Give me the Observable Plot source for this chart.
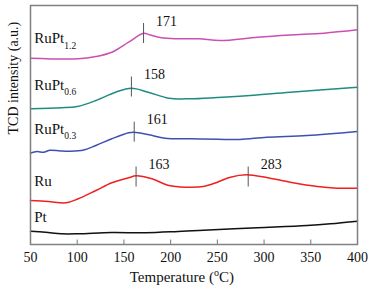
<!DOCTYPE html>
<html><head><meta charset="utf-8">
<script src="https://cdn.jsdelivr.net/npm/d3@7"></script>
<script src="https://cdn.jsdelivr.net/npm/@observablehq/plot@0.6"></script>
<style>body{margin:0;background:#fff} #chart svg{display:block}</style>
</head><body><div id="chart"></div>
<script>
// ---- data (temperature in °C, TCD intensity in a.u.) ----
const seriesNames = ["RuPt_1.2", "RuPt_0.6", "RuPt_0.3", "Ru", "Pt"];
const xTicks = [50, 100, 150, 200, 250, 300, 350, 400];

const tRuPt12 = [50,101,120,137,155,171,178,190,208,230,253,293,328,364,400];
const iRuPt12 = [185.3,184.7,187,191.3,201.3,210.3,208.5,205.7,204.7,204.7,203,206.3,208.5,210.3,213.7];

const tRuPt06 = [50,83,100,120,141,158,176,198,221,250,285,328,400];
const iRuPt06 = [134.7,135.7,137,143,151.3,155.3,151.3,145.3,144.7,146,148,151.3,156.3];

const tRuPt03 = [50,57,64,71,82,93,107,120,137,155,161,177,194,221,250,274,303,346,400];
const iRuPt03 = [90.5,92,91.2,93.3,92.5,92.2,93.5,98,104.7,110.7,111.3,108.7,105.3,104.7,104.3,104,106.3,108,112];

const tRu = [50,69,88,101,120,137,155,163,180,198,216,235,250,264,281,304,328,357,378,400];
const iRu = [43,42,40.7,44.7,53,60.7,65.7,67.7,64.7,58,56.3,57,61.3,66.3,68.7,65.7,61.3,57,55.3,55.3];

const tPt = [50,66,83,101,137,173,208,230,293,346,371,400];
const iPt = [12.3,11.3,9.7,9.7,11,10.7,12,13,15.7,18,19.7,22.3];

const peakT = [171, 158, 161, 163, 283];
const peakLevel = [210, 156.5, 111.3, 66.5, 66.5];
const peakLabels = ["171", "158", "161", "163", "283"];

// ---- styling / layout ----
const seriesColors = ["#cc4fb4", "#1f8c82", "#4050b0", "#f02020", "#111111"];
const labelYs = [200.3, 154, 109.7, 58, 21.3];

const seriesT = [tRuPt12, tRuPt06, tRuPt03, tRu, tPt];
const seriesI = [iRuPt12, iRuPt06, iRuPt03, iRu, iPt];
const rows = seriesNames.flatMap((name, k) => seriesT[k].map((t, i) => ({series: name, t, v: seriesI[k][i]})));
const peaks = peakT.map((t, i) => ({t, level: peakLevel[i], label: peakLabels[i]}));
const labels = seriesNames.map((name, i) => ({name, y: labelYs[i]}));

const chart = Plot.plot({
  width: 373, height: 292,
  marginTop: 5, marginBottom: 48, marginLeft: 30, marginRight: 16,
  style: {fontFamily: "'Liberation Serif', 'Times New Roman', serif", fontSize: "14px", background: "#fff", color: "#111"},
  x: {domain: [50, 400], ticks: xTicks, tickSize: 0, tickPadding: 8, label: null},
  y: {domain: [-1, 238], axis: null},
  color: {domain: seriesNames, range: seriesColors},
  marks: [
    Plot.ruleX(xTicks.slice(1, -1), {x: d => d, y1: -1, y2: 3.5, stroke: "#777", strokeWidth: 1}),
    Plot.line(rows, {x: "t", y: "v", z: "series", stroke: "series", strokeWidth: 1.5, curve: "catmull-rom"}),
    Plot.ruleX(peaks, {x: "t", y1: d => d.level - 10, y2: d => d.level + 10, stroke: "#555", strokeWidth: 1}),
    Plot.text(peaks, {x: "t", y: d => d.level + 10, text: "label", dx: 23, dy: 2, lineAnchor: "bottom", fontSize: 14, fill: "#111"}),
    Plot.text(labels, {x: 54, y: "y", text: "name", textAnchor: "start", lineAnchor: "bottom", fontSize: 15, fill: "#111"}),
    Plot.text(["TCD intensity (a.u.)"], {frameAnchor: "left", y: 109, dx: -17, rotate: -90, fontSize: 14, fill: "#111"}),
    Plot.text(["Temperature (^oC)"], {x: 212, frameAnchor: "bottom", dy: 37, lineAnchor: "bottom", fontSize: 15, fill: "#111"}),
    Plot.frame({stroke: "#808080", strokeWidth: 1.5})
  ]
});

// subscripts / superscripts as real tspans
chart.querySelectorAll("text").forEach(t => {
  const s = t.textContent;
  const mk = (txt) => { const e = document.createElementNS("http://www.w3.org/2000/svg", "tspan"); e.textContent = txt; return e; };
  if (s.includes("_")) {
    const [a, b] = s.split("_");
    t.textContent = "";
    const t2 = mk(b); t2.setAttribute("font-size", "9.5"); t2.setAttribute("dy", "5.5");
    t.append(mk(a), t2);
  } else if (s.includes("^")) {
    const [a, b] = s.split("^");
    t.textContent = "";
    const t2 = mk(b.slice(0, 1)); t2.setAttribute("font-size", "10"); t2.setAttribute("dy", "-6");
    const t3 = mk(b.slice(1)); t3.setAttribute("dy", "6");
    t.append(mk(a), t2, t3);
  }
});

document.getElementById("chart").append(chart);
</script>
</body></html>
